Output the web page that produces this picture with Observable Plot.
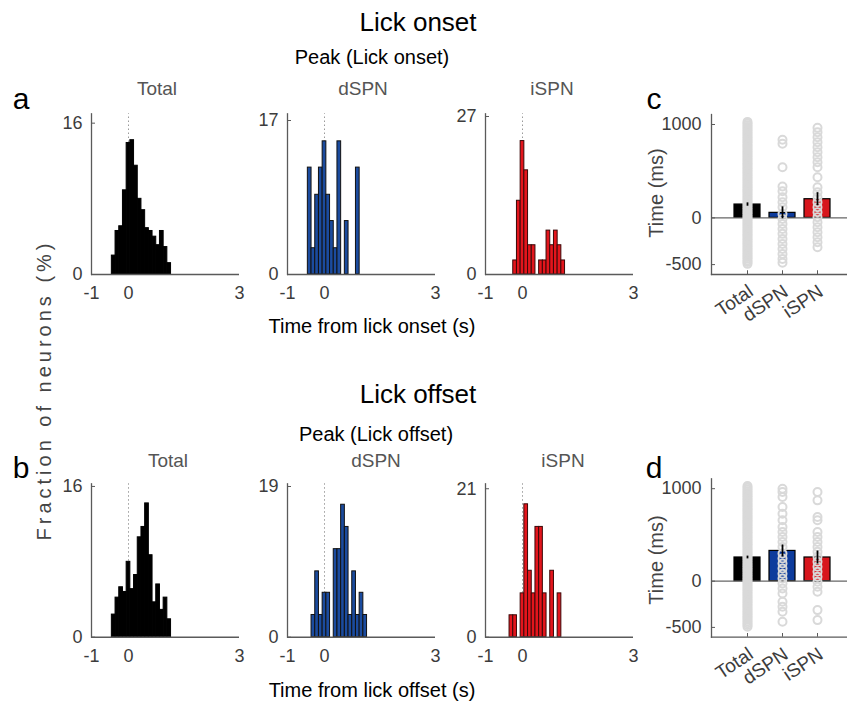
<!DOCTYPE html>
<html><head><meta charset="utf-8">
<script src="https://cdn.jsdelivr.net/npm/d3@7"></script>
<script src="https://cdn.jsdelivr.net/npm/@observablehq/plot@0.6"></script>
<style>
html,body{margin:0;padding:0;background:#fff;overflow:hidden;}
#fig{position:relative;width:847px;height:715px;overflow:hidden;font-family:"Liberation Sans",Arial,sans-serif;}
.t{position:absolute;white-space:nowrap;transform:translate(-50%,-50%);line-height:1;}
.p{position:absolute;}
</style>
</head><body><div id="fig"></div>
<script>
// ---------------- data ----------------
const xTicks = [-1, 0, 3];
const binHalf = 0.05;

const onsetTotalBins = [-0.4,-0.3,-0.2,-0.1,0,0.1,0.2,0.3,0.4,0.5,0.6,0.7,0.8,0.9,1.0,1.1];
const onsetTotalPct  = [2.0,4.6,5.1,8.9,13.9,14.2,11.5,8.0,6.8,4.9,4.6,4.0,3.1,4.6,2.9,1.2];
const onsetDspnBins  = [-0.4,-0.3,-0.2,-0.1,0,0.1,0.2,0.3,0.4,0.5,0.6,0.7,0.8,0.9];
const onsetDspnPct   = [11.8,2.9,8.8,11.8,14.7,8.8,5.9,2.9,14.7,0,5.9,0,0,11.8];
const onsetIspnBins  = [-0.2,-0.1,0,0.1,0.2,0.3,0.4,0.5,0.6,0.7,0.8,0.9,1.0,1.1];
const onsetIspnPct   = [2.4,12.6,22.8,17.8,5.0,5.0,0,2.4,2.4,7.5,5.0,7.5,5.0,2.4];

const offsetTotalBins = [-0.4,-0.3,-0.2,-0.1,0,0.1,0.2,0.3,0.4,0.5,0.6,0.7,0.8,0.9,1.0,1.1];
const offsetTotalPct  = [2.4,4.2,5.3,4.8,8.0,5.1,6.6,10.6,11.7,14.2,8.7,3.7,5.6,2.9,4.2,1.9];
const offsetDspnBins  = [-0.3,-0.2,-0.1,0,0.1,0.2,0.3,0.4,0.5,0.6,0.7,0.8,0.9,1.0,1.1];
const offsetDspnPct   = [2.8,8.3,2.8,5.6,5.6,0,11.1,11.1,16.7,13.9,2.8,8.3,2.8,5.6,2.8];
const offsetIspnBins  = [-0.3,-0.2,-0.1,0,0.1,0.2,0.3,0.4,0.5,0.6,0.7,0.8,0.9,1.0];
const offsetIspnPct   = [3.1,3.1,0,6.2,18.8,9.4,6.2,15.6,15.6,6.2,0,9.4,0,6.2];

const onsetYTicks  = [16, 17, 27];
const onsetYTop    = [16.99, 17.74, 27.46];
const offsetYTicks = [16, 19, 21];
const offsetYTop   = [16.28, 19.34, 21.7];

const groups = ["Total", "dSPN", "iSPN"];
const onsetMeanMs  = [143, 54, 200];
const onsetSemMs   = [18, 64, 70];
const offsetMeanMs = [256, 327, 256];
const offsetSemMs  = [15, 65, 70];
const msTicks = [-500, 0, 1000];
const msDomain = [-606, 1107];

const totalPeaksMs = [-492,-473,-455,-436,-418,-399,-381,-362,-343,-325,-306,-288,-269,-251,-232,-214,-195,-177,-158,-140,-121,-102,-84,-65,-47,-28,-10,9,27,46,64,83,101,120,138,157,175,194,213,231,250,268,287,305,324,342,361,379,398,416,435,453,472,491,509,528,546,565,583,602,620,639,657,676,694,713,732,750,769,787,806,824,843,861,880,898,917,935,954,973,991,1010,1028];
const onsetDspnPeaksMs  = [836,793,543,336,286,221,168,114,43,-11,-64,-118,-171,-225,-279,-332,-386,-439,-480];
const onsetIspnPeaksMs  = [964,918,864,811,757,704,650,596,543,436,329,275,221,168,114,61,7,-46,-100,-154,-207,-261,-314];
const offsetDspnPeaksMs = [1000,964,910,802,730,658,586,532,478,424,370,299,245,191,137,80,29,-25,-79,-133,-223,-277,-331,-439];
const offsetIspnPeaksMs = [964,874,694,658,532,478,424,370,317,263,209,155,101,47,-7,-61,-115,-313,-421];

// ---------------- helpers ----------------
const fig = document.getElementById("fig");
function text(str, x, y, size, color, extra) {
  const d = document.createElement("div");
  d.className = "t";
  d.textContent = str;
  d.style.left = x + "px"; d.style.top = y + "px";
  d.style.fontSize = size + "px"; d.style.color = color;
  if (extra) Object.assign(d.style, extra);
  fig.appendChild(d);
}
function place(svg, left, top) {
  svg.classList.add("p");
  svg.style.left = left + "px"; svg.style.top = top + "px";
  fig.appendChild(svg);
}
const axisGray = "#5a5a5a";
const tickColor = "#3c3c3c";
const baseStyle = {fontFamily: "Liberation Sans, Arial, sans-serif", fontSize: "18px", color: tickColor, background: "transparent", overflow: "visible"};
const fmt = d => d < 0 ? "-" + Math.abs(d) : String(d);

function hist(bins, pct, yTick, yTop, fill, stroke, axisX, top, axisTopY, baseY) {
  const data = bins.map((c, i) => ({c, v: pct[i]})).filter(d => d.v > 0);
  const H = 220, ML = 38;
  const svg = Plot.plot({
    width: ML + 148 + 12, height: H,
    marginLeft: ML, marginRight: 12,
    marginTop: axisTopY - top, marginBottom: top + H - baseY,
    style: baseStyle,
    x: {domain: [-1, 3]},
    y: {domain: [0, yTop]},
    marks: [
      Plot.ruleX([0], {y1: 0, y2: yTop, stroke: "#9a9a9a", strokeDasharray: "1.5,2.5", strokeWidth: 1}),
      Plot.rectY(data, {x1: d => d.c - binHalf, x2: d => d.c + binHalf, y: "v", fill, stroke, strokeWidth: 1}),
      Plot.frame({anchor: "left", stroke: axisGray, strokeWidth: 1.3}),
      Plot.ruleY([0], {stroke: axisGray, strokeWidth: 1.5}),
      Plot.axisY({ticks: [0, yTick], tickSize: -4, tickPadding: 13, stroke: axisGray, fontSize: 18, label: null}),
      Plot.axisX({ticks: xTicks, tickSize: 0, tickPadding: 12, fontSize: 18, label: null, tickFormat: fmt})
    ]
  });
  place(svg, axisX - ML - 2, top);
}

function bars(means, sems, dspnPeaks, ispnPeaks, top, axisTopY, baseY) {
  const H = 240, ML = 60;
  const stats = groups.map((g, i) => ({g, m: means[i], lo: means[i] - sems[i], hi: means[i] + sems[i]}));
  const pts = [
    ...totalPeaksMs.map(v => ({g: "Total", v})),
    ...dspnPeaks.map(v => ({g: "dSPN", v})),
    ...ispnPeaks.map(v => ({g: "iSPN", v}))
  ];
  const colors = {Total: "#000000", dSPN: "#0d3b9c", iSPN: "#d7161d"};
  const svg = Plot.plot({
    width: ML + 143, height: H,
    marginLeft: ML, marginRight: 0,
    marginTop: axisTopY - top, marginBottom: top + H - baseY,
    style: baseStyle,
    x: {type: "band", domain: groups, paddingInner: 0.25, paddingOuter: 0.6125, align: 0.5, axis: null},
    y: {domain: msDomain},
    marks: [
      Plot.barY(stats, {x: "g", y: "m", fill: d => colors[d.g], stroke: "#000", strokeWidth: 1.2}),
      Plot.ruleY([0], {stroke: "#666", strokeWidth: 1.2}),
      Plot.dot(pts, {x: "g", y: "v", r: 4, stroke: "#d9d9d9", strokeWidth: 2, fill: "none"}),
      Plot.ruleX(stats, {x: "g", y1: "lo", y2: "hi", stroke: "#000", strokeWidth: 1.8}),
      Plot.frame({anchor: "left", stroke: axisGray, strokeWidth: 1.3}),
      Plot.frame({anchor: "bottom", stroke: axisGray, strokeWidth: 1.3}),
      Plot.ruleX(groups, {x: d => d, y1: msDomain[0], y2: msDomain[0] + 40, stroke: axisGray}),
      Plot.axisY({ticks: msTicks, tickSize: -4, tickPadding: 14, fontSize: 18, stroke: axisGray, label: null, tickFormat: fmt}),
      Plot.text(groups, {x: d => d, frameAnchor: "bottom", text: d => d, rotate: -34, textAnchor: "end", dx: 7, dy: 20, fontSize: 19, fill: tickColor})
    ]
  });
  place(svg, 711 - ML, top);
}

// ---------------- panels ----------------
const axisXs = [93.3, 289.3, 486.7];
const onsetSets = [[onsetTotalBins, onsetTotalPct], [onsetDspnBins, onsetDspnPct], [onsetIspnBins, onsetIspnPct]];
const offsetSets = [[offsetTotalBins, offsetTotalPct], [offsetDspnBins, offsetDspnPct], [offsetIspnBins, offsetIspnPct]];
const fills = ["#000000", "#1b4b9e", "#e3151c"];
const strokes = ["#000000", "#111111", "#3a0808"];

onsetSets.forEach(([b, p], i) => hist(b, p, onsetYTicks[i], onsetYTop[i], fills[i], strokes[i], axisXs[i], 100, 113.3, 274));
offsetSets.forEach(([b, p], i) => hist(b, p, offsetYTicks[i], offsetYTop[i], fills[i], strokes[i], axisXs[i], 470, 483.3, 636.7));

bars(onsetMeanMs, onsetSemMs, onsetDspnPeaksMs, onsetIspnPeaksMs, 100, 114, 274);
bars(offsetMeanMs, offsetSemMs, offsetDspnPeaksMs, offsetIspnPeaksMs, 465, 478.3, 636.7);

// ---------------- text ----------------
text("Lick onset", 418, 22, 26, "#000");
text("Peak (Lick onset)", 372, 57, 20, "#000");
text("Total", 157, 88, 19, "#555");
text("dSPN", 363, 88, 19, "#555");
text("iSPN", 552, 88, 19, "#555");
text("Time from lick onset (s)", 372, 326, 20, "#000");

text("Lick offset", 418, 394, 26, "#000");
text("Peak (Lick offset)", 376, 434, 20, "#000");
text("Total", 168, 460, 19, "#555");
text("dSPN", 376, 460, 19, "#555");
text("iSPN", 563, 460, 19, "#555");
text("Time from lick offset (s)", 372, 690, 20, "#000");

text("Fraction of neurons (%)", 44, 390, 20, "#444", {transform: "translate(-50%,-50%) rotate(-90deg)", letterSpacing: "4px"});
text("Time (ms)", 656, 193, 20, "#444", {transform: "translate(-50%,-50%) rotate(-90deg)"});
text("Time (ms)", 656, 560, 20, "#444", {transform: "translate(-50%,-50%) rotate(-90deg)"});

text("a", 21, 99, 30, "#000");
text("b", 21, 468, 30, "#000");
text("c", 654, 99, 30, "#000");
text("d", 654, 468, 30, "#000");
</script>
</body></html>
